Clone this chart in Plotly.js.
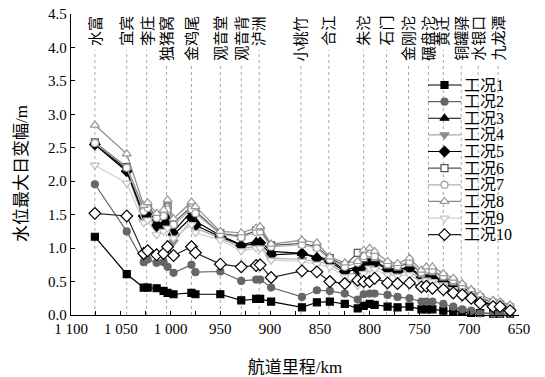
<!DOCTYPE html>
<html><head><meta charset="utf-8">
<script src="https://cdn.plot.ly/plotly-3.0.1.min.js"></script>
<style>html,body{margin:0;padding:0;background:#fff}#chart{width:545px;height:377px}</style>
</head><body><div id="chart"></div>
<script>
// ---------------- data ----------------
const mileage = [1076, 1044, 1027, 1023, 1014, 1007, 1003, 997, 979, 975, 950, 929, 914, 910, 899, 868, 853, 840, 825, 812, 806, 800, 795, 782, 772, 760, 748, 743, 737, 726, 716, 707, 698, 689, 676, 669, 659];
const case1 = [1.17, 0.61, 0.41, 0.41, 0.40, 0.36, 0.33, 0.31, 0.33, 0.31, 0.31, 0.22, 0.24, 0.24, 0.20, 0.115, 0.19, 0.20, 0.165, 0.10, 0.135, 0.165, 0.15, 0.125, 0.115, 0.125, 0.085, 0.085, 0.085, 0.065, 0.05, 0.05, 0.03, 0.03, 0.02, 0.02, 0.02];
const case2 = [1.955, 1.25, 0.79, 0.83, 0.78, 0.79, 0.72, 0.63, 0.75, 0.64, 0.65, 0.51, 0.53, 0.53, 0.41, 0.27, 0.37, 0.36, 0.32, 0.23, 0.31, 0.32, 0.32, 0.30, 0.27, 0.25, 0.20, 0.20, 0.20, 0.165, 0.125, 0.085, 0.065, 0.025, 0.02, 0.02, 0.02];
const case3 = [2.56, 2.18, 1.50, 1.57, 1.38, 1.37, 1.45, 1.25, 1.55, 1.40, 1.19, 1.05, 1.10, 1.10, 0.95, 0.92, 0.87, 0.83, 0.67, 0.72, 0.80, 0.85, 0.80, 0.70, 0.68, 0.72, 0.58, 0.60, 0.58, 0.52, 0.45, 0.38, 0.30, 0.22, 0.15, 0.13, 0.08];
const case4 = [2.55, 2.14, 1.42, 1.47, 1.30, 1.30, 1.35, 1.09, 1.42, 1.30, 1.15, 1.00, 1.02, 1.03, 0.85, 0.83, 0.80, 0.76, 0.62, 0.62, 0.70, 0.75, 0.72, 0.65, 0.62, 0.66, 0.52, 0.55, 0.53, 0.47, 0.40, 0.34, 0.27, 0.20, 0.13, 0.11, 0.07];
const case5 = [2.55, 2.15, 1.48, 1.53, 1.33, 1.33, 1.35, 1.20, 1.46, 1.34, 1.17, 1.04, 1.06, 1.08, 0.90, 0.92, 0.85, 0.80, 0.65, 0.68, 0.75, 0.82, 0.78, 0.68, 0.65, 0.70, 0.56, 0.58, 0.56, 0.50, 0.43, 0.36, 0.29, 0.21, 0.14, 0.12, 0.08];
const case6 = [2.58, 2.21, 1.59, 1.62, 1.47, 1.50, 1.62, 1.38, 1.62, 1.55, 1.22, 1.18, 1.26, 1.27, 1.04, 1.07, 1.02, 0.85, 0.74, 0.93, 0.85, 0.90, 0.86, 0.75, 0.72, 0.78, 0.62, 0.66, 0.65, 0.57, 0.50, 0.42, 0.34, 0.26, 0.18, 0.16, 0.11];
const case7 = [2.57, 2.20, 1.55, 1.60, 1.45, 1.48, 1.58, 1.35, 1.58, 1.52, 1.21, 1.16, 1.24, 1.25, 1.02, 1.05, 1.00, 0.83, 0.72, 0.78, 0.88, 0.92, 0.88, 0.76, 0.73, 0.80, 0.64, 0.68, 0.67, 0.58, 0.52, 0.44, 0.36, 0.27, 0.20, 0.18, 0.13];
const case8 = [2.84, 2.41, 1.64, 1.68, 1.52, 1.57, 1.72, 1.44, 1.69, 1.62, 1.25, 1.23, 1.30, 1.32, 1.06, 1.12, 1.08, 0.87, 0.78, 0.80, 0.97, 1.00, 0.95, 0.80, 0.77, 0.85, 0.67, 0.72, 0.72, 0.62, 0.55, 0.47, 0.38, 0.30, 0.22, 0.20, 0.15];
const case9 = [2.24, 1.97, 1.38, 1.42, 1.20, 1.25, 1.30, 1.15, 1.35, 1.23, 1.12, 0.96, 1.00, 1.00, 0.82, 0.80, 0.76, 0.72, 0.57, 0.44, 0.62, 0.70, 0.68, 0.60, 0.58, 0.60, 0.50, 0.52, 0.50, 0.45, 0.38, 0.32, 0.26, 0.19, 0.12, 0.10, 0.06];
const case10 = [1.52, 1.48, 0.92, 0.96, 0.90, 0.92, 1.02, 0.89, 1.02, 0.93, 0.76, 0.72, 0.74, 0.75, 0.56, 0.66, 0.645, 0.50, 0.47, 0.52, 0.50, 0.50, 0.55, 0.48, 0.47, 0.48, 0.42, 0.43, 0.40, 0.38, 0.33, 0.30, 0.25, 0.175, 0.125, 0.125, 0.065];
const caseNames = ['工况1', '工况2', '工况3', '工况4', '工况5', '工况6', '工况7', '工况8', '工况9', '工况10'];
const stationNames = ['水富', '宜宾', '李庄', '独猪窝', '金鸡尾', '观音堂', '观音背', '泸洲', '小桃竹', '合江', '朱沱', '石门', '金刚沱', '碾盘沱', '黄迁', '铜罐驿', '水银口', '九龙潭'];
const stationKm = [1076, 1044, 1024, 1004, 979, 950, 929, 911, 869, 841, 806, 783, 761, 741, 726, 708, 691, 671];

// ---------------- styling ----------------
const FONT = '"Liberation Serif", "Noto Sans CJK SC", serif';
const L = 71, T = 14, W = 448, H = 301;
const allCases = [case1, case2, case3, case4, case5, case6, case7, case8, case9, case10];
const styles = [
  {line: '#000000', sym: 'square',        fill: '#000000', edge: '#000000', size: 7},
  {line: '#666666', sym: 'circle',        fill: '#666666', edge: '#666666', size: 7},
  {line: '#000000', sym: 'triangle-up',   fill: '#000000', edge: '#000000', size: 8},
  {line: '#a8a8a8', sym: 'triangle-down', fill: '#8c8c8c', edge: '#8c8c8c', size: 8},
  {line: '#000000', sym: 'diamond',       fill: '#000000', edge: '#000000', size: 8},
  {line: '#555555', sym: 'square',        fill: '#ffffff', edge: '#555555', size: 7},
  {line: '#b0b0b0', sym: 'circle',        fill: '#ffffff', edge: '#a0a0a0', size: 7},
  {line: '#8a8a8a', sym: 'triangle-up',   fill: '#ffffff', edge: '#999999', size: 8},
  {line: '#d0d0d0', sym: 'triangle-down', fill: '#ffffff', edge: '#c0c0c0', size: 8},
  {line: '#222222', sym: 'diamond',       fill: '#ffffff', edge: '#000000', size: 9}
];

const traces = [];
allCases.forEach((vals, i) => {
  const s = styles[i];
  traces.push({
    type: 'scatter', mode: 'lines+markers', name: caseNames[i],
    x: mileage, y: vals, showlegend: false, cliponaxis: false,
    line: {color: s.line, width: 1.2},
    marker: {symbol: s.sym, size: s.size, color: s.fill, line: {color: s.edge, width: 1.2}}
  });
});

// hand-built legend on a hidden overlay axis (pixel units inside plot area)
const legLineX = [357, 390];
const legMarkX = 373.5;
const legTop = 230;     // first row, pixels above the x axis
const legStep = 16.63;
const annotations = [];
caseNames.forEach((nm, i) => {
  const s = styles[i];
  const yy = legTop - i * legStep;
  traces.push({
    type: 'scatter', mode: 'lines', xaxis: 'x2', yaxis: 'y2', showlegend: false, hoverinfo: 'skip',
    x: legLineX, y: [yy, yy], line: {color: s.line, width: 1.2}
  });
  traces.push({
    type: 'scatter', mode: 'markers', xaxis: 'x2', yaxis: 'y2', showlegend: false, hoverinfo: 'skip',
    x: [legMarkX], y: [yy],
    marker: {symbol: s.sym, size: s.size, color: s.fill, line: {color: s.edge, width: 1.2}}
  });
  annotations.push({
    xref: 'x2', yref: 'y2', x: legLineX[1] + 1, y: yy, xanchor: 'left', yanchor: 'middle',
    text: nm, showarrow: false, font: {family: FONT, size: 16, color: '#000'}
  });
});

// station labels and dotted guide lines
const LABEL_FS = 15;
const shapes = [];
stationNames.forEach((nm, i) => {
  annotations.push({
    xref: 'x', yref: 'paper', x: stationKm[i], y: 1.0, xanchor: 'center', yanchor: 'top',
    text: nm, textangle: -90, showarrow: false,
    font: {family: FONT, size: LABEL_FS, color: '#000'}
  });
  const top = 1 - (nm.length * LABEL_FS + 6) / H;
  shapes.push({
    type: 'line', xref: 'x', yref: 'paper', x0: stationKm[i], x1: stationKm[i], y0: 0, y1: top,
    line: {color: '#a8a8a8', width: 1, dash: 'dot'}, layer: 'below'
  });
});

// y-axis title
annotations.push({
  xref: 'paper', yref: 'paper', x: (22 - L) / W, y: (315 - 174) / H, xanchor: 'center', yanchor: 'middle',
  text: '水位最大日变幅/m', textangle: -90, showarrow: false,
  font: {family: FONT, size: 17, color: '#000'}
});

const layout = {
  width: 545, height: 377,
  margin: {l: L, r: 545 - L - W, t: T, b: 377 - T - H},
  paper_bgcolor: '#fff', plot_bgcolor: '#fff',
  font: {family: FONT, size: 15, color: '#000'},
  separators: '. ',
  showlegend: false,
  xaxis: {
    range: [1100, 650], tickmode: 'linear', tick0: 650, dtick: 50,
    separatethousands: true,
    ticks: 'inside', ticklen: 4, tickcolor: '#000', tickwidth: 1,
    minor: {dtick: 25, tick0: 650, ticks: 'inside', ticklen: 4, tickcolor: '#000', showgrid: false},
    showline: true, linecolor: '#000', linewidth: 1.2, showgrid: false, zeroline: false,
    tickfont: {family: FONT, size: 15},
    title: {text: '航道里程/km', font: {family: FONT, size: 17}, standoff: 26}
  },
  yaxis: {
    range: [0, 4.5], tickmode: 'linear', tick0: 0, dtick: 0.5, tickformat: '.1f',
    ticks: 'inside', ticklen: 4, tickcolor: '#000', tickwidth: 1,
    showline: true, linecolor: '#000', linewidth: 1.2, showgrid: false, zeroline: false,
    tickfont: {family: FONT, size: 15}
  },
  xaxis2: {overlaying: 'x', range: [0, W], visible: false, fixedrange: true},
  yaxis2: {overlaying: 'y', range: [0, H], visible: false, fixedrange: true},
  annotations: annotations,
  shapes: shapes
};

Plotly.newPlot('chart', traces, layout, {displayModeBar: false, staticPlot: true});
</script>
</body></html>
